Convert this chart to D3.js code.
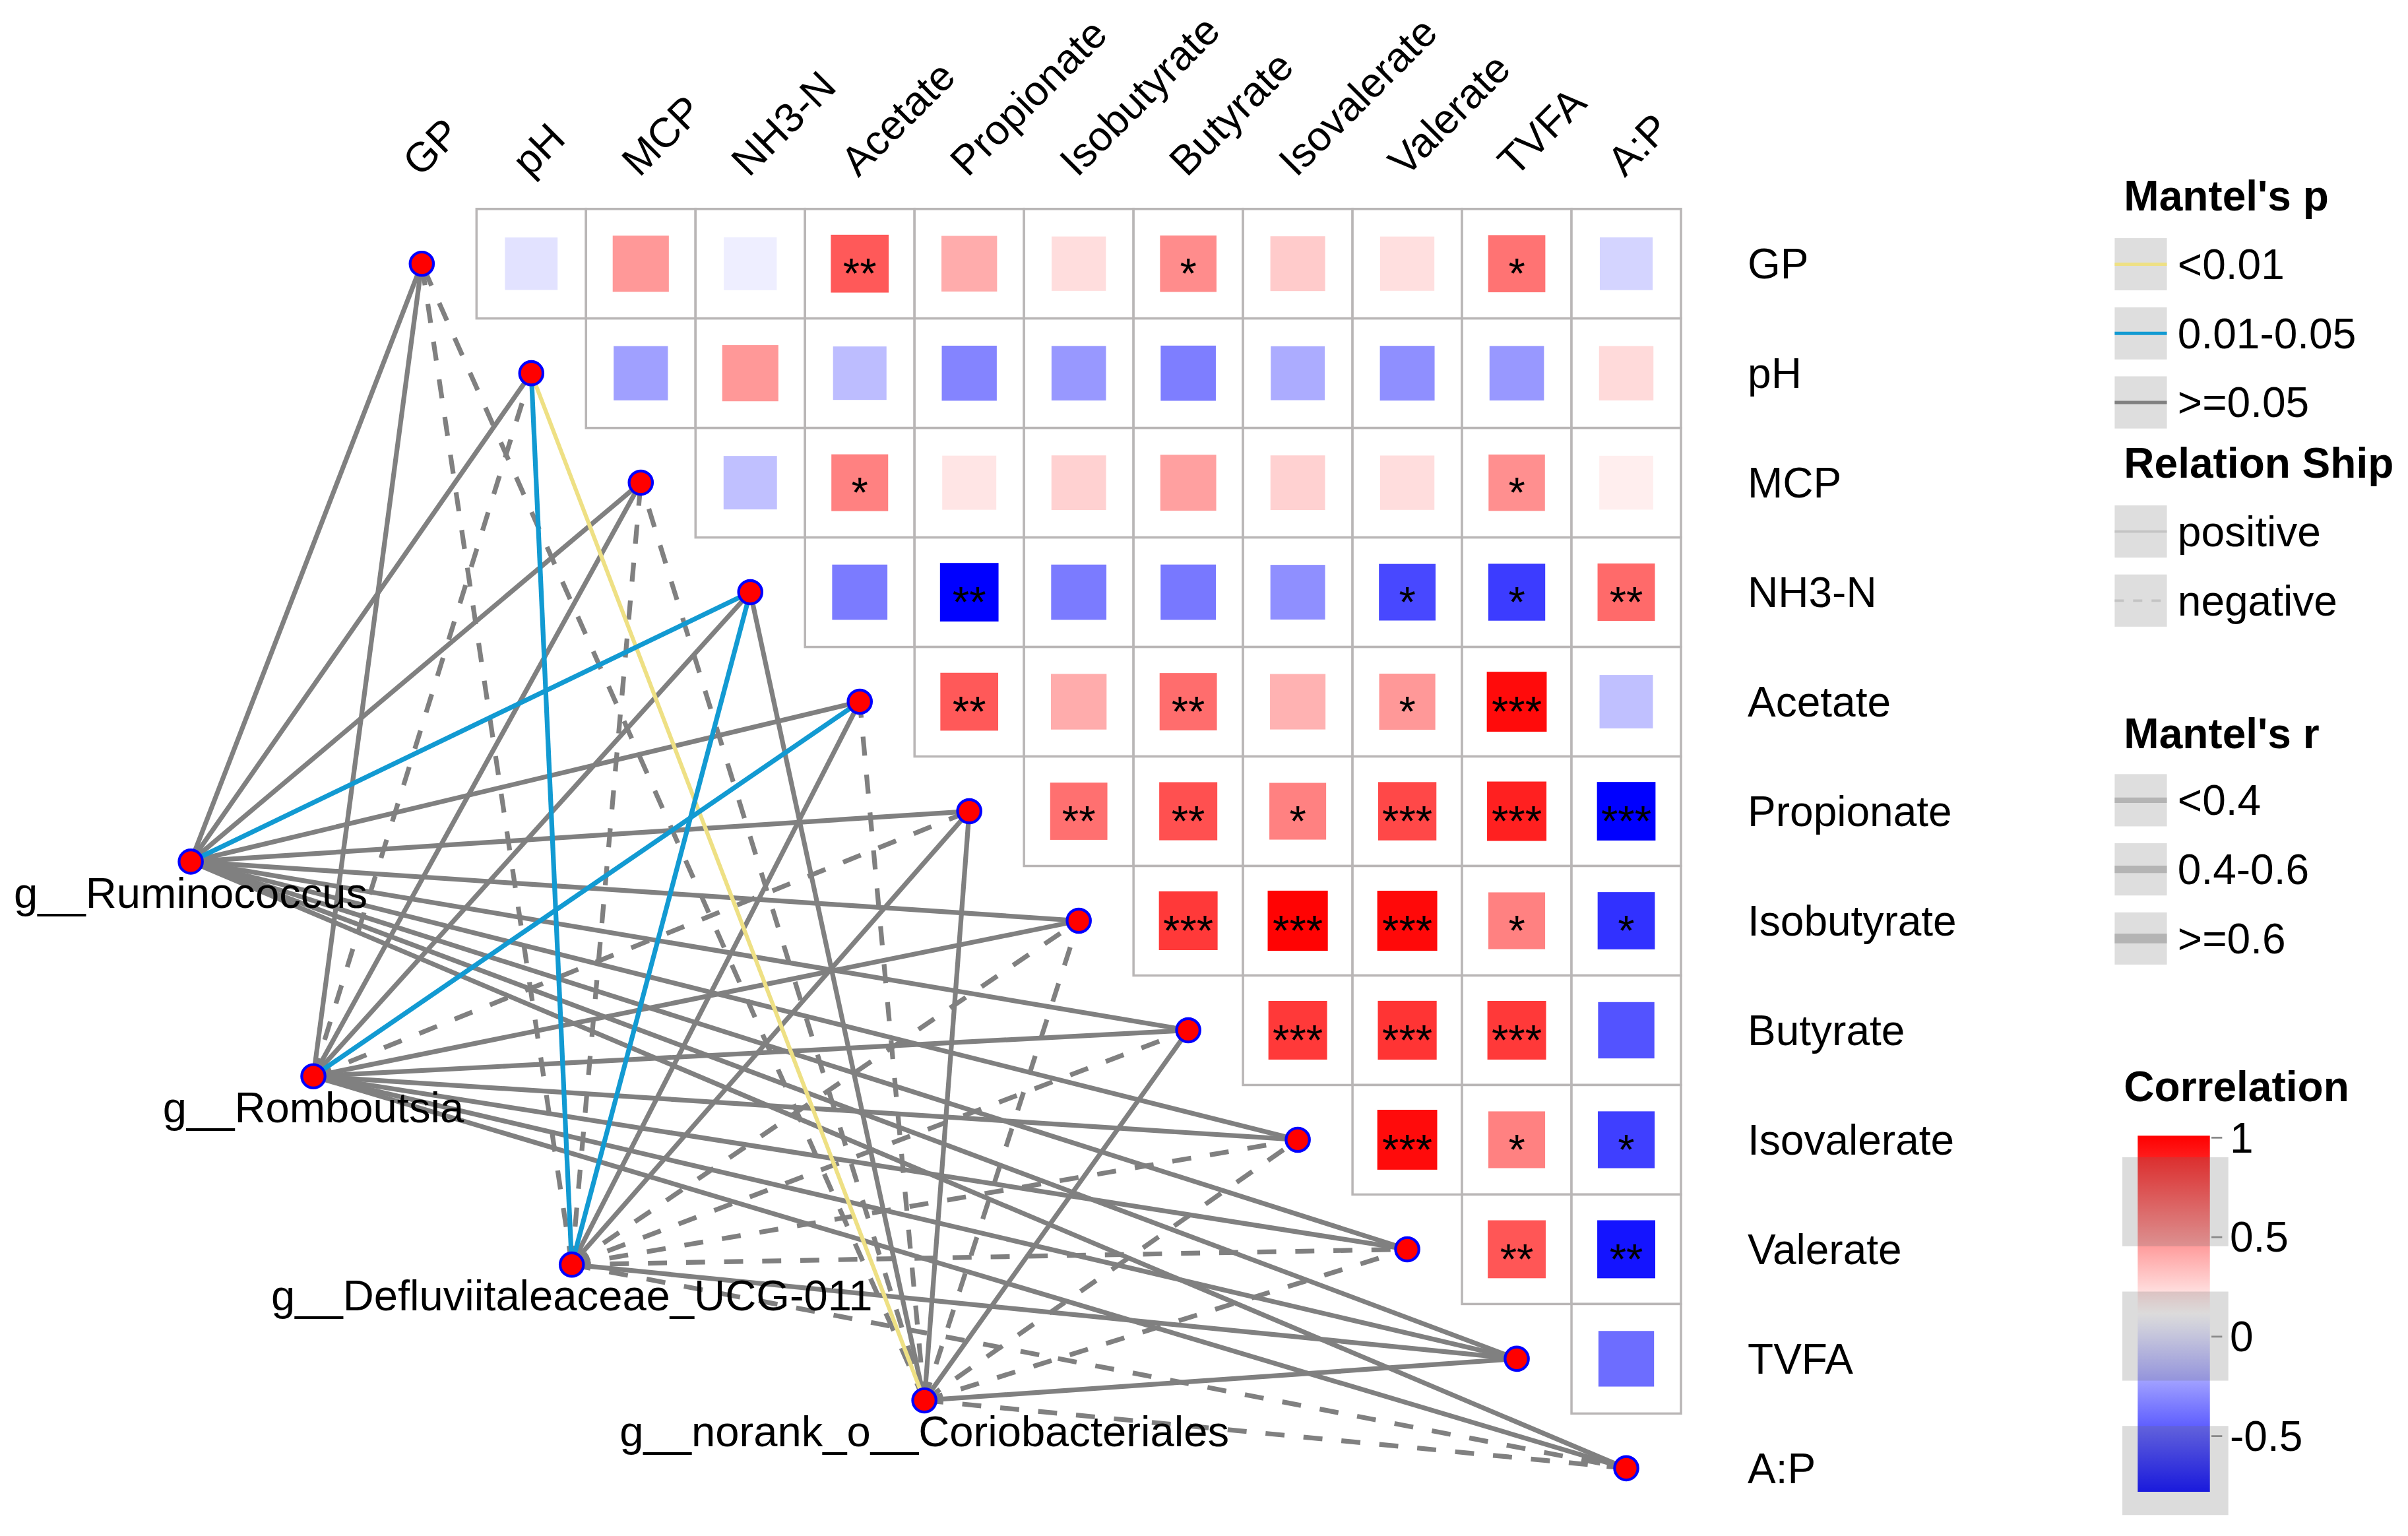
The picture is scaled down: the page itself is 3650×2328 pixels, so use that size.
<!DOCTYPE html>
<html>
<head>
<meta charset="utf-8">
<title>Mantel test network and correlation heatmap</title>
<script src="https://d3js.org/d3.v7.min.js"></script>
<style>
  body { margin: 0; background: #fff; }
  svg text { font-family: "Liberation Sans", Arial, Helvetica, sans-serif; }
</style>
</head>
<body>
<div id="chart"></div>
<script>
// environmental variables (rows / columns of the heatmap)
const envVars = ["GP", "pH", "MCP", "NH3-N", "Acetate", "Propionate", "Isobutyrate",
                 "Butyrate", "Isovalerate", "Valerate", "TVFA", "A:P"];

// correlation r, upper triangle, row i holds columns i+1 .. 11
const corrR = [
  [0.01, 0.47, 0.05, 0.69, 0.40, 0.23, 0.51, 0.29, 0.22, 0.60, -0.04],
  [-0.22, 0.47, -0.12, -0.32, -0.25, -0.34, -0.18, -0.28, -0.25, 0.24],
  [-0.11, 0.55, 0.20, 0.27, 0.44, 0.27, 0.23, 0.50, 0.17],
  [-0.35, -0.78, -0.35, -0.36, -0.28, -0.53, -0.57, 0.63],
  [0.69, 0.40, 0.62, 0.38, 0.47, 0.96, -0.11],
  [0.61, 0.72, 0.55, 0.75, 0.89, -0.78],
  [0.80, 0.99, 0.97, 0.55, -0.61],
  [0.80, 0.82, 0.80, -0.49],
  [0.96, 0.55, -0.56],
  [0.70, -0.71],
  [-0.40]
];
const corrStars = [
  ["", "", "", "**", "", "", "*", "", "", "*", ""],
  ["", "", "", "", "", "", "", "", "", ""],
  ["", "*", "", "", "", "", "", "*", ""],
  ["", "**", "", "", "", "*", "*", "**"],
  ["**", "", "**", "", "*", "***", ""],
  ["**", "**", "*", "***", "***", "***"],
  ["***", "***", "***", "*", "*"],
  ["***", "***", "***", ""],
  ["***", "*", "*"],
  ["**", "**"],
  [""]
];

// genera (network nodes) and where they sit, in heatmap cell units
const genera = ["g__Ruminococcus", "g__Romboutsia", "g__Defluviitaleaceae_UCG-011",
                "g__norank_o__Coriobacteriales"];
const genusCol = [-1.61, -0.49, 1.87, 5.09];
const genusRow = [5.96, 7.92, 9.64, 10.88];

// Mantel test results, one row per genus, one entry per env variable
const mantelSign = [
  ["+", "+", "+", "+", "+", "+", "+", "+", "+", "+", "+", "+"],
  ["+", "-", "+", "+", "+", "-", "+", "+", "+", "+", "+", "+"],
  ["-", "+", "-", "+", "+", "+", "-", "-", "-", "-", "+", "-"],
  ["-", "+", "-", "+", "-", "+", "-", "+", "-", "-", "+", "-"]
];
const mantelP = [
  [">=0.05", ">=0.05", ">=0.05", "0.01-0.05", ">=0.05", ">=0.05", ">=0.05", ">=0.05", ">=0.05", ">=0.05", ">=0.05", ">=0.05"],
  [">=0.05", ">=0.05", ">=0.05", ">=0.05", "0.01-0.05", ">=0.05", ">=0.05", ">=0.05", ">=0.05", ">=0.05", ">=0.05", ">=0.05"],
  [">=0.05", "0.01-0.05", ">=0.05", "0.01-0.05", ">=0.05", ">=0.05", ">=0.05", ">=0.05", ">=0.05", ">=0.05", ">=0.05", ">=0.05"],
  [">=0.05", "<0.01", ">=0.05", ">=0.05", ">=0.05", ">=0.05", ">=0.05", ">=0.05", ">=0.05", ">=0.05", ">=0.05", ">=0.05"]
];
const mantelR = [
  ["<0.4", "<0.4", "<0.4", "<0.4", "<0.4", "<0.4", "<0.4", "<0.4", "<0.4", "<0.4", "<0.4", "<0.4"],
  ["<0.4", "<0.4", "<0.4", "<0.4", "<0.4", "<0.4", "<0.4", "<0.4", "<0.4", "<0.4", "<0.4", "<0.4"],
  ["<0.4", "<0.4", "<0.4", "<0.4", "<0.4", "<0.4", "<0.4", "<0.4", "<0.4", "<0.4", "<0.4", "<0.4"],
  ["<0.4", "<0.4", "<0.4", "<0.4", "<0.4", "<0.4", "<0.4", "<0.4", "<0.4", "<0.4", "<0.4", "<0.4"]
];

const pLevels = ["<0.01", "0.01-0.05", ">=0.05"];
const rLevels = ["<0.4", "0.4-0.6", ">=0.6"];
const signLevels = ["positive", "negative"];
const corrTicks = [1, 0.5, 0, -0.5];

// ---- layout (drawn in a 1568 x 1000 box, scaled up to the window) ----
const W = 1568, H = 1000;
const n = envVars.length;
const gx = d3.scaleLinear().domain([0, n]).range([239, 239 + 71.3 * n]);
const gy = d3.scaleLinear().domain([0, n]).range([136, 136 + 71.3 * n]);
const cell = gx(1) - gx(0);

const color = d3.scaleLinear().domain([-0.78, 0.11, 1]).range(["#0000ff", "#ffffff", "#ff0000"]);
const pColor = d3.scaleOrdinal().domain(pLevels).range(["#eee084", "#129ad2", "#808080"]);
const rWidth = d3.scaleOrdinal().domain(rLevels).range([3.1, 4.4, 5.9]);
const side = r => cell * (0.48 + 0.07 * Math.abs(r));

const svg = d3.select("#chart").append("svg")
    .attr("width", 3650)
    .attr("height", 2328)
    .attr("viewBox", `0 0 ${W} ${H}`);

// heatmap cells
const cells = [];
corrR.forEach((row, i) => row.forEach((r, k) => {
  cells.push({row: i, col: i + 1 + k, r: r, star: corrStars[i][k]});
}));

svg.append("g").selectAll("rect")
  .data(cells)
  .join("rect")
    .attr("x", d => gx(d.col))
    .attr("y", d => gy(d.row))
    .attr("width", cell)
    .attr("height", cell)
    .attr("fill", "white")
    .attr("stroke", "#b9b6b6")
    .attr("stroke-width", 1.5);

svg.append("g").selectAll("rect")
  .data(cells)
  .join("rect")
    .attr("x", d => gx(d.col + 0.5) - side(d.r) / 2)
    .attr("y", d => gy(d.row + 0.5) - side(d.r) / 2)
    .attr("width", d => side(d.r))
    .attr("height", d => side(d.r))
    .attr("fill", d => color(d.r));

svg.append("g").selectAll("text")
  .data(cells.filter(d => d.star))
  .join("text")
    .attr("x", d => gx(d.col + 0.5))
    .attr("y", d => gy(d.row + 0.5) + 16)
    .attr("text-anchor", "middle")
    .attr("font-size", 28)
    .attr("fill", "black")
    .text(d => d.star);

// column labels (rotated) and row labels
svg.append("g").selectAll("text")
  .data(envVars)
  .join("text")
    .attr("transform", (d, i) => `translate(${gx(i + 0.5) - 1},${gy(0) - 20}) rotate(-45)`)
    .attr("font-size", 27)
    .attr("fill", "black")
    .text(d => d);

svg.append("g").selectAll("text")
  .data(envVars)
  .join("text")
    .attr("x", 1138)
    .attr("y", (d, i) => gy(i + 0.5))
    .attr("dy", "0.35em")
    .attr("font-size", 27.5)
    .attr("fill", "black")
    .text(d => d);

// Mantel links
const links = [];
genera.forEach((g, gi) => envVars.forEach((e, ei) => {
  links.push({g: gi, e: ei, sign: mantelSign[gi][ei], p: mantelP[gi][ei], r: mantelR[gi][ei]});
}));
const order = {">=0.05": 0, "<0.01": 1, "0.01-0.05": 2};
links.sort((a, b) => order[a.p] - order[b.p]);

svg.append("g").selectAll("line")
  .data(links)
  .join("line")
    .attr("x1", d => gx(genusCol[d.g]))
    .attr("y1", d => gy(genusRow[d.g]))
    .attr("x2", d => gx(d.e + 0.5))
    .attr("y2", d => gy(d.e + 0.5))
    .attr("stroke", d => pColor(d.p))
    .attr("stroke-width", d => d.p === "<0.01" ? rWidth(d.r) * 0.85 : rWidth(d.r))
    .attr("stroke-dasharray", d => d.sign === "-" ? `${4 * rWidth(d.r)},${4 * rWidth(d.r)}` : null);

// nodes
svg.append("g").selectAll("circle")
  .data(envVars)
  .join("circle")
    .attr("cx", (d, i) => gx(i + 0.5))
    .attr("cy", (d, i) => gy(i + 0.5))
    .attr("r", 7.6)
    .attr("fill", "#ff0000")
    .attr("stroke", "#0000ff")
    .attr("stroke-width", 1.8);

svg.append("g").selectAll("circle")
  .data(genera)
  .join("circle")
    .attr("cx", (d, i) => gx(genusCol[i]))
    .attr("cy", (d, i) => gy(genusRow[i]))
    .attr("r", 7.6)
    .attr("fill", "#ff0000")
    .attr("stroke", "#0000ff")
    .attr("stroke-width", 1.8);

svg.append("g").selectAll("text")
  .data(genera)
  .join("text")
    .attr("x", (d, i) => gx(genusCol[i]))
    .attr("y", (d, i) => gy(genusRow[i]) + 30)
    .attr("text-anchor", "middle")
    .attr("font-size", 28)
    .attr("fill", "black")
    .text(d => d);

// ---- legends ----
const legX = 1377, keyW = 34;
const leg = svg.append("g");

function title(txt, y) {
  leg.append("text").attr("x", 1383).attr("y", y)
    .attr("font-size", 27.5).attr("font-weight", "bold").text(txt);
}
function keyRow(label, cy, drawLine) {
  leg.append("rect").attr("x", legX).attr("y", cy - keyW / 2)
    .attr("width", keyW).attr("height", keyW).attr("fill", "#dedede");
  drawLine(leg.append("line").attr("x1", legX).attr("x2", legX + keyW).attr("y1", cy).attr("y2", cy));
  leg.append("text").attr("x", 1418).attr("y", cy).attr("dy", "0.35em")
    .attr("font-size", 27.5).text(label);
}

title("Mantel's p", 137);
pLevels.forEach((p, i) => keyRow(p, 172 + 45 * i, l => l.attr("stroke", pColor(p)).attr("stroke-width", 2.2)));

title("Relation Ship", 311);
signLevels.forEach((s, i) => keyRow(s, 346 + 45 * i, l => l
  .attr("stroke", "#c4c4c4").attr("stroke-width", 1.6)
  .attr("stroke-dasharray", s === "negative" ? "6,6" : null)));

title("Mantel's r", 487);
rLevels.forEach((r, i) => keyRow(r, 521 + 45 * i, l => l
  .attr("stroke", "#b4b4b4").attr("stroke-width", rWidth(r) + 0.4)));

title("Correlation", 717);
const cy = d3.scaleLinear().domain([1, -0.5]).range([740.7, 935]);
const barTop = cy(1.01), barBot = cy(-0.78);
const grad = svg.append("defs").append("linearGradient")
    .attr("id", "corrGrad").attr("x1", 0).attr("x2", 0).attr("y1", 0).attr("y2", 1);
d3.range(0, 1.0001, 0.05).forEach(t => {
  const v = 1.01 + t * (-0.78 - 1.01);
  grad.append("stop").attr("offset", t).attr("stop-color", color(v));
});
leg.append("rect").attr("x", 1392).attr("y", barTop).attr("width", 47).attr("height", barBot - barTop)
  .attr("fill", "url(#corrGrad)");
[0, 1, 2].forEach(k => {
  leg.append("rect").attr("x", 1382).attr("y", barTop + 14 + 87.5 * k)
    .attr("width", 69).attr("height", 58)
    .attr("fill", "#6c6c6c").attr("opacity", 0.24);
});
corrTicks.forEach(t => {
  leg.append("line").attr("x1", 1440).attr("x2", 1447).attr("y1", cy(t)).attr("y2", cy(t))
    .attr("stroke", "#8a8a8a").attr("stroke-width", 1.2);
  leg.append("text").attr("x", 1452).attr("y", cy(t)).attr("dy", "0.35em")
    .attr("font-size", 27.5).text(t);
});
</script>
</body>
</html>
